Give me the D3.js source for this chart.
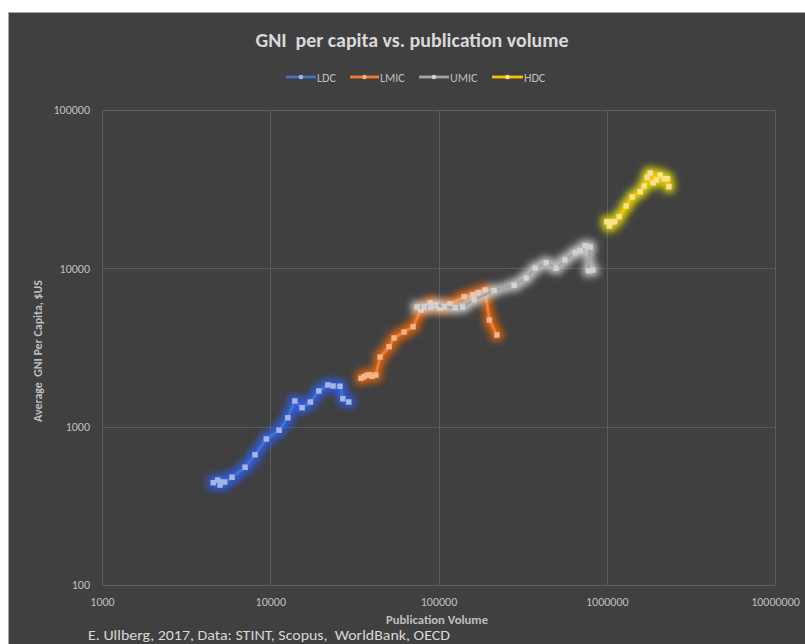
<!DOCTYPE html>
<html>
<head>
<meta charset="utf-8">
<script src="https://cdn.jsdelivr.net/npm/d3@7"></script>
<style>
  html, body { margin: 0; padding: 0; background: #ffffff; }
  svg { display: block; }
  text { font-family: Carlito, Lato, "Open Sans", sans-serif; }
</style>
</head>
<body>
<script>
// Publication volume (x) and average GNI per capita (y) for each income group
const ldcPubs  = [4590, 4870, 5030, 5100, 5360, 5930, 7090, 8120, 9480, 11280, 12710, 13990, 15460, 17320, 19430, 21980, 23620, 26000, 26980, 29290];
const ldcGni   = [443, 460, 428, 447, 447, 479, 554, 665, 836, 949, 1139, 1453, 1318, 1432, 1680, 1834, 1807, 1800, 1502, 1432];

const lmicPubs = [34660, 36120, 37480, 38840, 40300, 42390, 44970, 50840, 54450, 62440, 70630, 78830, 89130, 101800, 117200, 141950, 159900, 171950, 189250, 200700, 222200];
const lmicGni  = [2021, 2069, 2111, 2130, 2080, 2120, 2754, 3201, 3631, 3962, 4280, 5457, 6067, 5618, 5979, 6622, 6817, 7018, 7298, 4718, 3793];

const umicPubs = [74620, 82100, 89990, 96380, 108400, 125530, 139100, 162800, 214100, 281500, 331700, 375200, 436100, 500300, 563600, 648800, 695000, 744100, 796700, 778400, 826800];
const umicGni  = [5699, 5699, 5699, 5894, 5699, 5641, 5699, 6339, 7244, 7814, 8690, 10020, 10855, 10007, 11290, 12560, 12920, 13900, 13640, 9663, 9760];

const hdcPubs  = [1001400, 1038000, 1072000, 1111000, 1185000, 1304000, 1416000, 1580000, 1669000, 1739000, 1812000, 1888000, 1972000, 2077000, 2194000, 2295000, 2339000];
const hdcGni   = [19710, 18510, 19710, 19710, 21200, 24760, 28220, 30490, 33110, 37580, 40000, 34750, 36140, 38860, 36830, 36830, 32780];

const seriesNames = ["LDC", "LMIC", "UMIC", "HDC"];
const xTicks = [1000, 10000, 100000, 1000000, 10000000];
const yTicks = [100, 1000, 10000, 100000];

const styles = {
  LDC:  { line: "#4472c4", marker: "#a3b6e4", glow: "#2a60ff" },
  LMIC: { line: "#ed7d31", marker: "#f6b48a", glow: "#f56a0a" },
  UMIC: { line: "#a5a5a5", marker: "#d2d2d2", glow: "#dcdcdc" },
  HDC:  { line: "#ffc000", marker: "#ffe08a", glow: "#f4ee00" }
};

const series = [
  { name: "LDC",  x: ldcPubs,  y: ldcGni },
  { name: "LMIC", x: lmicPubs, y: lmicGni },
  { name: "UMIC", x: umicPubs, y: umicGni },
  { name: "HDC",  x: hdcPubs,  y: hdcGni }
].map(s => ({ name: s.name, points: s.x.map((v, i) => ({ x: v, y: s.y[i] })) }));

const W = 805, H = 644;
const plot = { left: 102, right: 775, top: 110, bottom: 585 };

const svg = d3.select("body").append("svg").attr("width", W).attr("height", H);

// chart area
svg.append("rect").attr("x", 8.5).attr("y", 12.5).attr("width", W).attr("height", H)
  .attr("fill", "#404040").attr("stroke", "#a6a6a6").attr("stroke-width", 1);

// glow filters, one per series colour
const defs = svg.append("defs");
seriesNames.forEach(n => {
  const f = defs.append("filter").attr("id", "glow-" + n)
    .attr("x", "-30%").attr("y", "-30%").attr("width", "160%").attr("height", "160%");
  f.append("feMorphology").attr("in", "SourceAlpha").attr("operator", "dilate").attr("radius", 2.5).attr("result", "dil");
  f.append("feGaussianBlur").attr("in", "dil").attr("stdDeviation", 3.6).attr("result", "blur");
  f.append("feFlood").attr("flood-color", styles[n].glow).attr("flood-opacity", 0.85).attr("result", "col");
  f.append("feComposite").attr("in", "col").attr("in2", "blur").attr("operator", "in").attr("result", "halo");
  const m = f.append("feMerge");
  m.append("feMergeNode").attr("in", "halo");
  m.append("feMergeNode").attr("in", "SourceGraphic");
});

const x = d3.scaleLog().domain([1000, 10000000]).range([plot.left, plot.right]);
const y = d3.scaleLog().domain([100, 100000]).range([plot.bottom, plot.top]);

const gridColor = "#5c5c5c";

// gridlines and plot frame
svg.append("g").selectAll("line").data(xTicks).join("line")
  .attr("x1", d => Math.round(x(d)) + 0.5).attr("x2", d => Math.round(x(d)) + 0.5)
  .attr("y1", plot.top).attr("y2", plot.bottom)
  .attr("stroke", gridColor).attr("stroke-width", 1);
svg.append("g").selectAll("line").data(yTicks).join("line")
  .attr("x1", plot.left).attr("x2", plot.right)
  .attr("y1", d => Math.round(y(d)) + 0.5).attr("y2", d => Math.round(y(d)) + 0.5)
  .attr("stroke", gridColor).attr("stroke-width", 1);

// axes (tick labels only, lines drawn by the grid)
const xAxis = svg.append("g").attr("transform", `translate(0,${plot.bottom})`)
  .call(d3.axisBottom(x).tickValues(xTicks).tickFormat(d3.format("d")).tickSize(0).tickPadding(12));
const yAxis = svg.append("g").attr("transform", `translate(${plot.left},0)`)
  .call(d3.axisLeft(y).tickValues(yTicks).tickFormat(d3.format("d")).tickSize(0).tickPadding(12));
[xAxis, yAxis].forEach(a => {
  a.select(".domain").remove();
  a.selectAll("text").attr("fill", "#bfbfbf").attr("font-size", 12)
    .style("font-family", "Carlito, Lato, sans-serif");
});

// series
const line = d3.line().x(d => x(d.x)).y(d => y(d.y));
series.forEach(s => {
  const st = styles[s.name];
  const g = svg.append("g").attr("filter", `url(#glow-${s.name})`);
  g.append("path").datum(s.points).attr("d", line)
    .attr("fill", "none").attr("stroke", st.line).attr("stroke-width", 2.8)
    .attr("stroke-linejoin", "round");
  g.selectAll("rect").data(s.points).join("rect")
    .attr("x", d => x(d.x) - 2.7).attr("y", d => y(d.y) - 2.7)
    .attr("width", 5.4).attr("height", 5.4)
    .attr("fill", st.marker);
});

// title
svg.append("text").attr("x", 412).attr("y", 47).attr("text-anchor", "middle")
  .attr("font-size", 20).attr("font-weight", "bold").attr("fill", "#d9d9d9")
  .attr("textLength", 313).attr("lengthAdjust", "spacingAndGlyphs")
  .style("white-space", "pre")
  .text("GNI  per capita vs. publication volume");

// legend
const legendItems = [
  { name: "LDC",  x0: 286, x1: 316 },
  { name: "LMIC", x0: 350, x1: 379 },
  { name: "UMIC", x0: 419, x1: 449 },
  { name: "HDC",  x0: 492, x1: 523 }
];
const lg = svg.append("g");
legendItems.forEach(it => {
  const st = styles[it.name];
  lg.append("line").attr("x1", it.x0).attr("x2", it.x1).attr("y1", 77).attr("y2", 77)
    .attr("stroke", st.line).attr("stroke-width", 2.8);
  lg.append("circle").attr("cx", (it.x0 + it.x1) / 2).attr("cy", 77).attr("r", 2.3)
    .attr("fill", st.marker);
  lg.append("text").attr("x", it.x1 + 1).attr("y", 81.5).attr("font-size", 12)
    .attr("fill", "#bfbfbf").text(it.name);
});

// axis titles
svg.append("text").attr("transform", "translate(42,351) rotate(-90)")
  .attr("text-anchor", "middle").attr("font-size", 12).attr("font-weight", "bold")
  .attr("fill", "#bfbfbf").style("white-space", "pre")
  .attr("textLength", 142).attr("lengthAdjust", "spacingAndGlyphs")
  .text("Average  GNI Per Capita, $US");
svg.append("text").attr("x", 437).attr("y", 624).attr("text-anchor", "middle")
  .attr("font-size", 11.5).attr("font-weight", "bold").attr("fill", "#bfbfbf")
  .attr("textLength", 102).attr("lengthAdjust", "spacingAndGlyphs")
  .text("Publication Volume");

// source note
svg.append("text").attr("x", 88).attr("y", 640).attr("font-size", 14)
  .attr("fill", "#d9d9d9").style("white-space", "pre")
  .attr("textLength", 362).attr("lengthAdjust", "spacingAndGlyphs")
  .text("E. Ullberg, 2017, Data: STINT, Scopus,  WorldBank, OECD");
</script>
</body>
</html>
